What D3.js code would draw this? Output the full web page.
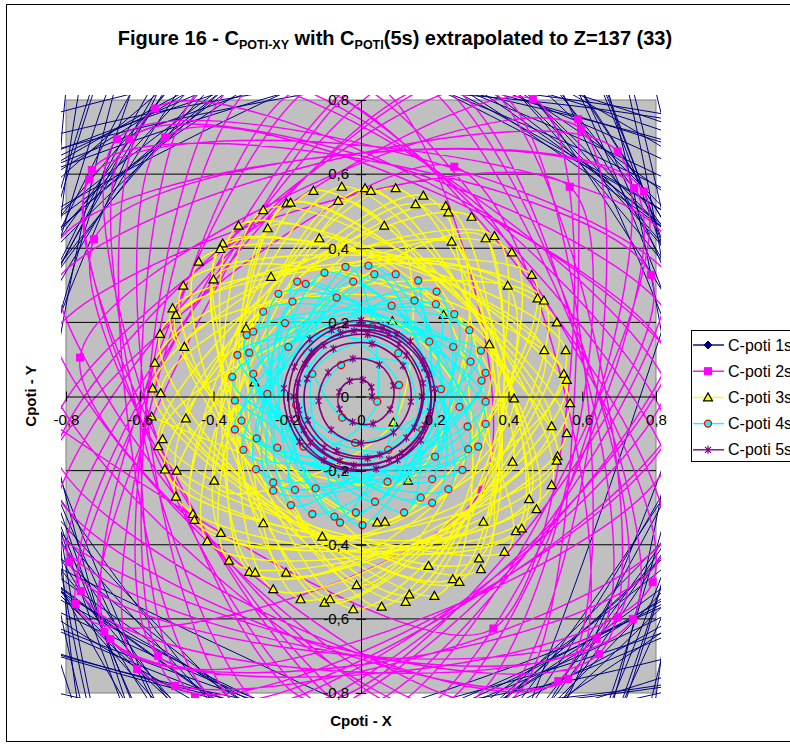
<!DOCTYPE html>
<html>
<head>
<meta charset="utf-8">
<script src="https://cdn.jsdelivr.net/npm/d3@7"></script>
<style>
body { margin: 0; background: #fff; }
text { font-family: Arial, "Liberation Sans", sans-serif; }
</style>
</head>
<body>
<svg width="790" height="747"></svg>
<script>

var tickValues = [-0.8, -0.6, -0.4, -0.2, 0, 0.2, 0.4, 0.6, 0.8];
var tickLabels = ["-0,8", "-0,6", "-0,4", "-0,2", "0", "0,2", "0,4", "0,6", "0,8"];
var seriesNames = ["C-poti 1s", "C-poti 2s", "C-poti 3s", "C-poti 4s", "C-poti 5s"];

// [x, y] pairs; 1s (and part of 2s) lies outside the axes, so it is estimated
var poti1s = [[1.55,0.00],[1.89,0.17],[1.68,0.27],[2.04,0.51],[1.52,0.49],[1.66,0.70],[1.78,0.91],[1.27,0.80],
 [1.50,1.09],[1.25,1.08],[1.10,1.10],[1.22,1.46],[1.00,1.38],[1.08,1.80],[0.73,1.43],[0.67,1.67],[0.62,1.90],
 [0.34,1.46],[0.29,1.83],[0.12,1.65],[0.00,1.55],[-0.17,1.89],[-0.27,1.68],[-0.51,2.04],[-0.49,1.52],[-0.70,1.66],
 [-0.91,1.78],[-0.80,1.27],[-1.09,1.50],[-1.08,1.25],[-1.10,1.10],[-1.46,1.22],[-1.38,1.00],[-1.80,1.08],[-1.43,0.73],
 [-1.67,0.67],[-1.90,0.62],[-1.46,0.34],[-1.83,0.29],[-1.65,0.12],[-1.75,0.00],[-1.59,-0.14],[-1.98,-0.31],[-1.46,-0.36],
 [-1.81,-0.59],[-1.57,-0.66],[-1.38,-0.70],[-1.74,-1.09],[-1.29,-0.94],[-1.36,-1.18],[-1.38,-1.38],[-0.96,-1.15],
 [-1.03,-1.42],[-0.82,-1.37],[-0.91,-1.78],[-0.56,-1.39],[-0.59,-1.81],[-0.38,-1.66],[-0.24,-1.53],[-0.14,-2.05],
 [0.00,-1.60],[0.16,-1.79],[0.30,-1.93],[0.36,-1.46],[0.54,-1.66],[0.63,-1.47],[0.91,-1.78],[0.80,-1.27],[1.12,-1.54],
 [1.12,-1.28],[1.10,-1.10],[1.57,-1.32],[1.29,-0.94],[1.54,-0.93],[1.74,-0.89],[1.39,-0.56],[1.66,-0.54],[1.56,-0.36],
 [1.98,-0.31],[1.50,-0.10],
 [1.62,0.06],[1.74,0.21],[1.55,0.31],[1.64,0.46],[1.69,0.62],[1.50,0.69],[1.40,0.78],[1.43,0.96],[1.27,1.00],
 [1.29,1.19],[1.07,1.16],[1.05,1.34],[1.00,1.50],[0.81,1.44],[0.67,1.45],[0.60,1.61],[0.44,1.56],[0.34,1.72],
 [0.19,1.57],[0.07,1.70],[-0.07,1.80],[-0.19,1.64],[-0.31,1.57],[-0.47,1.66],[-0.56,1.52],[-0.73,1.59],[-0.77,1.38],
 [-0.94,1.41],[-1.11,1.41],[-1.12,1.21],[-1.17,1.09],[-1.35,1.06],[-1.35,0.90],[-1.53,0.86],[-1.43,0.66],[-1.60,0.59],
 [-1.73,0.49],[-1.62,0.32],[-1.59,0.19],[-1.72,0.07],[-1.62,-0.06],[-1.74,-0.21],[-1.55,-0.31],[-1.64,-0.46],
 [-1.69,-0.62],[-1.50,-0.69],[-1.40,-0.78],[-1.43,-0.96],[-1.27,-1.00],[-1.29,-1.19],[-1.07,-1.16],[-1.05,-1.34],
 [-1.00,-1.50],[-0.81,-1.44],[-0.67,-1.45],[-0.60,-1.61],[-0.44,-1.56],[-0.34,-1.72],[-0.19,-1.57],[-0.07,-1.70],
 [0.07,-1.80],[0.19,-1.64],[0.31,-1.57],[0.47,-1.66],[0.56,-1.52],[0.73,-1.59],[0.77,-1.38],[0.94,-1.41],[1.11,-1.41],
 [1.12,-1.21],[1.17,-1.09],[1.35,-1.06],[1.35,-0.90],[1.53,-0.86],[1.43,-0.66],[1.60,-0.59],[1.73,-0.49],[1.62,-0.32],
 [1.59,-0.19],[1.72,-0.07]];

var poti2s = [[-0.559,0.777],[-0.662,0.694],[-0.629,0.694],[-0.531,0.699],[-0.730,0.611],[-0.737,0.586],[-0.724,0.424],
 [-0.762,0.105],[0.466,0.802],[0.589,0.748],[0.597,0.721],[0.696,0.661],[0.253,0.620],[0.566,0.566],[0.741,0.562],
 [0.767,0.553],[0.786,0.328],[-0.792,-0.446],[-0.760,-0.525],[-0.774,-0.560],[-0.696,-0.636],[-0.680,-0.655],
 [-0.550,-0.700],[-0.607,-0.735],[-0.504,-0.781],[0.327,-0.252],[0.359,-0.626],[0.696,-0.596],[0.737,-0.600],
 [0.791,-0.501],[0.639,-0.654],[0.645,-0.695],[0.535,-0.768],[0.562,-0.762],
 [-0.42,0.84],[-0.25,0.87],[-0.08,0.86],[0.08,0.89],[0.22,0.84],[0.36,0.83],
 [-0.38,-0.83],[-0.22,-0.87],[-0.06,-0.85],[0.10,-0.88],[0.26,-0.84],[0.40,-0.82],
 [-0.85,0.27],[-0.87,-0.05],[-0.84,-0.22],[-0.83,-0.36],
 [0.85,0.18],[0.88,0.02],[0.84,-0.15],[0.86,-0.32],
 [-0.33,0.85],[-0.16,0.83],[0.00,0.84],[0.15,0.87],[0.30,0.86],
 [-0.45,-0.81],[-0.30,-0.86],[-0.14,-0.82],[0.02,-0.86],[0.18,-0.85],[0.33,-0.87],
 [-0.83,0.40],[-0.86,0.12],[-0.84,-0.12],[-0.88,-0.30],
 [0.83,0.42],[0.87,0.27],[0.85,-0.05],[0.82,-0.42],[0.84,0.08]];

var poti3s = [[-0.052,0.566],[-0.129,0.555],[-0.062,0.528],[-0.202,0.521],[-0.191,0.523],[-0.265,0.503],[-0.332,0.461],
 [-0.253,0.454],[-0.113,0.427],[-0.375,0.413],[-0.382,0.398],[-0.440,0.364],[-0.400,0.316],[-0.244,0.323],[-0.482,0.299],
 [-0.511,0.238],[-0.502,0.220],[-0.312,0.184],[-0.545,0.169],[-0.479,0.134],[-0.559,0.091],
 [0.011,0.562],[0.027,0.555],[0.094,0.562],[0.169,0.542],[0.148,0.519],[0.230,0.514],[0.237,0.497],[0.063,0.461],
 [0.300,0.485],[0.338,0.427],[0.362,0.433],[0.246,0.418],[0.409,0.389],[0.463,0.328],[0.398,0.299],[0.479,0.265],
 [0.496,0.259],[0.224,0.220],[0.085,0.203],[0.531,0.200],[0.348,0.141],[0.497,0.125],[0.555,0.125],[0.550,0.061],
 [-0.565,0.022],[-0.543,0.009],[-0.289,0.038],[-0.568,-0.054],[-0.475,-0.059],[-0.538,-0.115],[-0.550,-0.134],
 [-0.532,-0.197],[-0.500,-0.200],[-0.398,-0.227],[-0.502,-0.270],[-0.456,-0.317],[-0.452,-0.333],[-0.265,-0.342],
 [-0.380,-0.368],[-0.417,-0.390],[-0.105,-0.378],[-0.358,-0.443],[-0.303,-0.473],[-0.287,-0.475],[-0.203,-0.475],
 [-0.238,-0.520],[-0.164,-0.547],[-0.099,-0.556],[-0.084,-0.547],[-0.021,-0.574],[-0.012,-0.509],
 [0.558,0.045],[0.415,-0.005],[0.567,-0.018],[0.088,-0.070],[0.517,-0.080],[0.558,-0.099],[0.533,-0.161],
 [0.531,-0.173],[0.411,-0.176],[0.517,-0.239],[0.128,-0.227],[0.456,-0.277],[0.476,-0.304],[0.332,-0.338],
 [0.044,-0.340],[0.065,-0.338],[0.420,-0.363],[0.436,-0.356],[0.389,-0.419],[0.320,-0.437],[0.325,-0.466],
 [0.183,-0.457],[0.249,-0.493],[0.267,-0.500],[0.131,-0.534],[0.121,-0.554],[0.199,-0.538],[0.056,-0.567]];

var poti4s = [[-0.042,0.350],[-0.099,0.334],[-0.021,0.310],[-0.173,0.310],[-0.150,0.304],[-0.066,0.267],[-0.224,0.277],
 [-0.186,0.256],[-0.265,0.229],[-0.206,0.198],[-0.310,0.166],[-0.292,0.175],[-0.197,0.134],[-0.335,0.112],[-0.303,0.118],
 [-0.054,0.085],[-0.132,0.061],[-0.349,0.053],[-0.292,0.061],
 [0.020,0.353],[0.036,0.330],[0.094,0.330],[0.155,0.313],[0.205,0.283],[0.145,0.259],[0.203,0.249],[0.083,0.245],
 [0.253,0.222],[0.031,0.188],[0.294,0.179],[0.185,0.148],[0.250,0.134],[0.325,0.124],[0.101,0.117],[0.297,0.094],
 [0.338,0.064],
 [-0.254,0.007],[-0.342,-0.011],[-0.176,-0.023],[-0.324,-0.065],[-0.342,-0.089],[-0.051,-0.057],[-0.283,-0.113],
 [-0.227,-0.138],[-0.156,-0.135],[-0.319,-0.144],[-0.016,-0.125],[-0.285,-0.196],[-0.238,-0.232],[-0.238,-0.254],
 [-0.179,-0.252],[-0.123,-0.248],[-0.190,-0.293],[-0.132,-0.317],[-0.072,-0.324],[-0.057,-0.340],[-0.014,-0.313],
 [0.327,0.043],[0.217,0.020],[0.103,0.031],[0.044,-0.014],[0.338,-0.014],[0.267,-0.028],[0.289,-0.081],[0.338,-0.074],
 [0.166,-0.090],[0.318,-0.135],[0.291,-0.142],[0.074,-0.144],[0.201,-0.162],[0.275,-0.198],[0.072,-0.230],
 [0.193,-0.223],[0.237,-0.250],[0.162,-0.273],[0.193,-0.287],[0.038,-0.284],[0.117,-0.313],[0.004,-0.347]];

// 5s is listed in drawing order, spiralling out from the centre
var poti5s = [[0.030,0.000],[0.028,0.025],[0.005,0.045],[-0.031,0.042],[-0.059,0.012],[-0.058,-0.034],[-0.023,-0.069],
 [0.033,-0.073],[0.079,-0.035],[0.088,0.029],[0.050,0.086],[-0.022,0.102],[-0.089,0.065],[-0.115,-0.012],
 [-0.081,-0.090],[0.000,-0.126],[0.088,-0.097],[0.135,-0.014],[0.114,0.083],[0.030,0.142],[-0.075,0.129],
 [-0.146,0.048],[-0.144,-0.064],[-0.066,-0.147],[0.051,-0.157],[0.145,-0.084],[0.168,0.036],[0.103,0.142],
 [-0.019,0.177],[-0.134,0.120],[-0.183,0.000],[-0.137,-0.124],[-0.020,-0.186],[0.111,-0.153],[0.187,-0.040],
 [0.167,0.097],[0.060,0.184],[-0.080,0.179],[-0.180,0.080],[-0.188,-0.061],[-0.100,-0.172],[0.041,-0.195],
 [0.162,-0.118],[0.199,0.021],[0.134,0.149],
 [0.000,0.205],[-0.139,0.155],[-0.209,0.022],[-0.167,-0.122],[-0.042,-0.199],[0.099,-0.171],[0.184,-0.060],
 [0.172,0.077],[0.075,0.168],[-0.056,0.171],[-0.152,0.088],[-0.168,-0.036],[-0.100,-0.138],[0.018,-0.167],
 [0.123,-0.111],[0.165,0.000],[0.123,0.111],[0.018,0.167],[-0.101,0.138],[-0.171,0.036],[-0.155,-0.090],
 [-0.057,-0.174],[0.076,-0.170],[0.173,-0.077],[0.183,0.059],[0.097,0.168],[-0.041,0.192]];

var svg = d3.select("svg");

var x = d3.scaleLinear().domain([-0.8, 0.8]).range([66, 656]),
    y = d3.scaleLinear().domain([-0.8, 0.8]).range([693, 100]);

// step = angle between consecutive points of a series, in degrees (null: keep listed order)
var series = [
  {name: seriesNames[0], data: poti1s, line: "#000080", width: 1,   marker: "diamond",  step: 137.5},
  {name: seriesNames[1], data: poti2s, line: "#ff00ff", width: 1.4, marker: "square",   step: 120},
  {name: seriesNames[2], data: poti3s, line: "#ffff00", width: 1.4, marker: "triangle", step: 120},
  {name: seriesNames[3], data: poti4s, line: "#00ffff", width: 1.4, marker: "circle",   step: 120},
  {name: seriesNames[4], data: poti5s, line: "#800080", width: 1.6, marker: "star",     step: null}
];

svg.append("rect")
    .attr("x", 6.5).attr("y", 4.5)
    .attr("width", 810).attr("height", 737)
    .attr("fill", "#fff").attr("stroke", "#000");

svg.append("defs").append("clipPath").attr("id", "clip")
  .append("rect")
    .attr("x", 61).attr("y", 95)
    .attr("width", 600).attr("height", 603);

svg.append("rect")
    .attr("x", 66).attr("y", 100)
    .attr("width", 590).attr("height", 593)
    .attr("fill", "#c0c0c0")
    .attr("stroke", "#808080");

svg.append("g").selectAll("line")
    .data(tickValues.filter(function(d) { return Math.abs(d) < 0.7 && d !== 0; }))
  .enter().append("line")
    .attr("x1", 66).attr("x2", 656)
    .attr("y1", function(d) { return y(d); })
    .attr("y2", function(d) { return y(d); })
    .attr("stroke", "#000");

function gcd(a, b) { return b ? gcd(b, a % b) : a; }
function drawOrder(pts, step) {
  if (!step) return pts;
  var s = pts.slice().sort(function(a, b) {
    return Math.atan2(a[1], a[0]) - Math.atan2(b[1], b[0]);
  });
  var n = s.length, k = Math.round(n * step / 360);
  while (gcd(k, n) !== 1) k++;
  return d3.range(n).map(function(i) { return s[(i * k) % n]; });
}

var line = d3.line()
    .x(function(d) { return x(d[0]); })
    .y(function(d) { return y(d[1]); })
    .curve(d3.curveCatmullRom.alpha(0));

function drawMarker(g, type) {
  if (type === "diamond") {
    g.append("path").attr("d", "M0,-4L4,0L0,4L-4,0Z").attr("fill", "#000080").attr("stroke", "#000080");
  } else if (type === "square") {
    g.append("rect").attr("x", -3.5).attr("y", -3.5).attr("width", 7).attr("height", 7)
        .attr("fill", "#ff00ff").attr("stroke", "#ff00ff");
  } else if (type === "triangle") {
    g.append("path").attr("d", "M0,-4.5L4.5,3.5L-4.5,3.5Z")
        .attr("fill", "#ffff00").attr("stroke", "#000").attr("stroke-width", 1.2);
  } else if (type === "circle") {
    g.append("circle").attr("r", 3.5)
        .attr("fill", "#00ffff").attr("stroke", "#ff0000").attr("stroke-width", 1.3);
  } else {
    g.append("path").attr("d", "M-3,-3L3,3M-3,3L3,-3M0,-4L0,4")
        .attr("fill", "none").attr("stroke", "#800080").attr("stroke-width", 1.2);
  }
}

var plot = svg.append("g").attr("clip-path", "url(#clip)");

series.forEach(function(s) {
  plot.append("path")
      .attr("d", line(drawOrder(s.data, s.step)))
      .attr("fill", "none")
      .attr("stroke", s.line)
      .attr("stroke-width", s.width);

  plot.selectAll(null)
      .data(s.data.filter(function(d) { return Math.abs(d[0]) <= 0.81 && Math.abs(d[1]) <= 0.81; }))
    .enter().append("g")
      .attr("transform", function(d) { return "translate(" + x(d[0]) + "," + y(d[1]) + ")"; })
      .each(function() { drawMarker(d3.select(this), s.marker); });
});

var xAxis = svg.append("g")
    .attr("transform", "translate(0," + y(0) + ")")
    .call(d3.axisBottom(x).tickValues(tickValues)
      .tickFormat(function(d, i) { return tickLabels[i]; })
      .tickSizeInner(5).tickSizeOuter(0).tickPadding(13));

var yAxis = svg.append("g")
    .attr("transform", "translate(" + x(0) + ",0)")
    .call(d3.axisLeft(y).tickValues(tickValues)
      .tickFormat(function(d, i) { return tickLabels[i]; })
      .tickSizeInner(5).tickSizeOuter(0).tickPadding(7));

xAxis.selectAll(".tick line").attr("y1", -5);
yAxis.selectAll(".tick line").attr("x1", 5);
[xAxis, yAxis].forEach(function(a) {
  a.attr("font-family", "Arial, 'Liberation Sans', sans-serif").attr("font-size", 15);
  a.selectAll("path, line").attr("stroke", "#000");
  a.selectAll("text").attr("fill", "#000");
});

var title = svg.append("text")
    .attr("x", 395).attr("y", 45)
    .attr("text-anchor", "middle")
    .attr("font-weight", "bold")
    .attr("font-size", 20);
title.append("tspan").text("Figure 16 - C");
title.append("tspan").attr("font-size", 12.5).attr("dy", 4).text("POTI-XY");
title.append("tspan").attr("dy", -4).text(" with C");
title.append("tspan").attr("font-size", 12.5).attr("dy", 4).text("POTI");
title.append("tspan").attr("dy", -4).text("(5s) extrapolated to Z=137 (33)");

svg.append("text")
    .attr("x", 361).attr("y", 726)
    .attr("text-anchor", "middle")
    .attr("font-weight", "bold").attr("font-size", 15)
    .text("Cpoti - X");

svg.append("text")
    .attr("transform", "translate(36,396) rotate(-90)")
    .attr("text-anchor", "middle")
    .attr("font-weight", "bold").attr("font-size", 15)
    .text("Cpoti - Y");

var legend = svg.append("g").attr("transform", "translate(691,330)");
legend.append("rect")
    .attr("x", 0.5).attr("y", 0.5)
    .attr("width", 130).attr("height", 131)
    .attr("fill", "#fff").attr("stroke", "#000");

var item = legend.selectAll(".item")
    .data(series)
  .enter().append("g")
    .attr("class", "item")
    .attr("transform", function(d, i) { return "translate(0," + (15 + i * 26.2) + ")"; });

item.append("line")
    .attr("x1", 2).attr("x2", 33)
    .attr("stroke", function(d) { return d.line; })
    .attr("stroke-width", 1.4);
item.append("g")
    .attr("transform", "translate(17,0)")
    .each(function(d) { drawMarker(d3.select(this), d.marker); });
item.append("text")
    .attr("x", 37).attr("dy", "0.35em")
    .attr("font-size", 16)
    .text(function(d) { return d.name; });

</script>
</body>
</html>
